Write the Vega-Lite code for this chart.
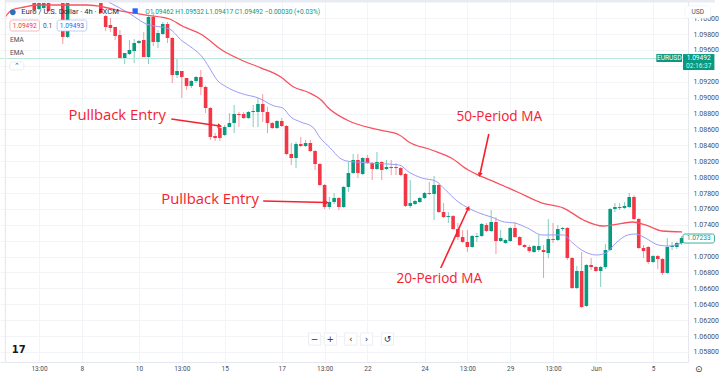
{"$schema":"https://vega.github.io/schema/vega-lite/v6.json","width":688,"height":362,"autosize":{"type":"none"},"padding":{"left":0,"top":0,"right":32,"bottom":14},"background":"#ffffff","config":{"view":{"stroke":null},"text":{"font":"Roboto"}},
"datasets":{
"candles":[
{"i":6,"o":1.1019,"h":1.1019,"l":1.10077,"c":1.10102,"d":"down"},{"i":7,"o":1.10115,"h":1.1019,"l":1.10102,"c":1.1019,"d":"up"},{"i":8,"o":1.10127,"h":1.1019,"l":1.10115,"c":1.1019,"d":"up"},{"i":9,"o":1.1019,"h":1.1019,"l":1.10077,"c":1.1009,"d":"down"},{"i":12,"o":1.1019,"h":1.1019,"l":1.09675,"c":1.09763,"d":"down"},{"i":13,"o":1.09763,"h":1.1019,"l":1.0975,"c":1.1019,"d":"up"},{"i":20,"o":1.1019,"h":1.1019,"l":1.10052,"c":1.10064,"d":"down"},
{"i":21,"o":1.10027,"h":1.10039,"l":1.09838,"c":1.09888,"d":"down"},{"i":22,"o":1.09914,"h":1.10001,"l":1.09826,"c":1.09876,"d":"down"},{"i":23,"o":1.09888,"h":1.09888,"l":1.09725,"c":1.09775,"d":"down"},{"i":24,"o":1.09788,"h":1.09851,"l":1.09486,"c":1.09498,"d":"down"},{"i":25,"o":1.09498,"h":1.09561,"l":1.09423,"c":1.09561,"d":"up"},{"i":26,"o":1.09548,"h":1.09725,"l":1.09536,"c":1.09599,"d":"up"},{"i":27,"o":1.09586,"h":1.09737,"l":1.09435,"c":1.09687,"d":"up"},{"i":28,"o":1.09687,"h":1.09725,"l":1.09675,"c":1.09712,"d":"up"},{"i":29,"o":1.09725,"h":1.09826,"l":1.09511,"c":1.09511,"d":"down"},{"i":30,"o":1.09511,"h":1.10027,"l":1.09423,"c":1.10014,"d":"up"},{"i":31,"o":1.10014,"h":1.10077,"l":1.09649,"c":1.097,"d":"down"},{"i":32,"o":1.097,"h":1.09851,"l":1.09624,"c":1.09813,"d":"up"},{"i":33,"o":1.098,"h":1.09951,"l":1.09788,"c":1.09926,"d":"up"},{"i":34,"o":1.09926,"h":1.09951,"l":1.09687,"c":1.0975,"d":"down"},{"i":35,"o":1.0975,"h":1.09763,"l":1.09184,"c":1.09284,"d":"down"},{"i":36,"o":1.09284,"h":1.09486,"l":1.09247,"c":1.09335,"d":"up"},{"i":37,"o":1.09335,"h":1.09335,"l":1.08995,"c":1.09259,"d":"down"},{"i":38,"o":1.09247,"h":1.09247,"l":1.09096,"c":1.09147,"d":"down"},{"i":39,"o":1.09147,"h":1.09222,"l":1.09121,"c":1.09209,"d":"up"},{"i":40,"o":1.09209,"h":1.09272,"l":1.09184,"c":1.09259,"d":"up"},{"i":41,"o":1.09259,"h":1.09347,"l":1.09033,"c":1.09134,"d":"down"},{"i":42,"o":1.09134,"h":1.09147,"l":1.08806,"c":1.08869,"d":"down"},{"i":43,"o":1.08869,"h":1.08882,"l":1.08467,"c":1.08505,"d":"down"},{"i":44,"o":1.08517,"h":1.08555,"l":1.08454,"c":1.08492,"d":"down"},{"i":45,"o":1.08618,"h":1.08655,"l":1.08454,"c":1.08492,"d":"down"},{"i":46,"o":1.0853,"h":1.08655,"l":1.08517,"c":1.0863,"d":"up"},{"i":47,"o":1.0863,"h":1.08806,"l":1.0863,"c":1.08681,"d":"up"},{"i":48,"o":1.08681,"h":1.08907,"l":1.08555,"c":1.08794,"d":"up"},{"i":49,"o":1.08794,"h":1.08819,"l":1.0863,"c":1.08781,"d":"down"},{"i":50,"o":1.08794,"h":1.08819,"l":1.08731,"c":1.08743,"d":"down"},{"i":51,"o":1.08743,"h":1.08832,"l":1.08731,"c":1.08819,"d":"up"},{"i":52,"o":1.08819,"h":1.08907,"l":1.0863,"c":1.08832,"d":"up"},{"i":53,"o":1.08819,"h":1.08995,"l":1.0863,"c":1.0892,"d":"up"},{"i":54,"o":1.0892,"h":1.09045,"l":1.08693,"c":1.08819,"d":"down"},{"i":55,"o":1.08819,"h":1.08882,"l":1.08555,"c":1.08681,"d":"down"},{"i":56,"o":1.08681,"h":1.08693,"l":1.08605,"c":1.08618,"d":"down"},{"i":57,"o":1.08618,"h":1.08718,"l":1.08605,"c":1.08706,"d":"up"},{"i":58,"o":1.08706,"h":1.08743,"l":1.0863,"c":1.08643,"d":"down"},{"i":59,"o":1.08643,"h":1.08655,"l":1.08278,"c":1.08291,"d":"down"},{"i":60,"o":1.08291,"h":1.08429,"l":1.08152,"c":1.0824,"d":"down"},{"i":61,"o":1.0824,"h":1.08442,"l":1.08114,"c":1.08416,"d":"up"},{"i":62,"o":1.08416,"h":1.08505,"l":1.08379,"c":1.08391,"d":"down"},{"i":63,"o":1.08391,"h":1.08467,"l":1.08379,"c":1.08429,"d":"up"},{"i":64,"o":1.08429,"h":1.08467,"l":1.08316,"c":1.08328,"d":"down"},{"i":65,"o":1.08328,"h":1.08341,"l":1.08089,"c":1.08165,"d":"down"},{"i":66,"o":1.08165,"h":1.08177,"l":1.07889,"c":1.07901,"d":"down"},{"i":67,"o":1.07901,"h":1.07914,"l":1.07599,"c":1.07624,"d":"down"},{"i":68,"o":1.07624,"h":1.0775,"l":1.07599,"c":1.07687,"d":"up"},{"i":69,"o":1.07687,"h":1.078,"l":1.07662,"c":1.07737,"d":"up"},{"i":70,"o":1.07737,"h":1.0775,"l":1.07586,"c":1.07624,"d":"down"},{"i":71,"o":1.07624,"h":1.07889,"l":1.07612,"c":1.07876,"d":"up"},{"i":72,"o":1.07876,"h":1.0819,"l":1.07813,"c":1.08052,"d":"up"},{"i":73,"o":1.08052,"h":1.08291,"l":1.08039,"c":1.08215,"d":"up"},{"i":74,"o":1.08215,"h":1.08291,"l":1.07989,"c":1.08052,"d":"down"},{"i":75,"o":1.08039,"h":1.08252,"l":1.08027,"c":1.0824,"d":"up"},{"i":76,"o":1.0824,"h":1.08278,"l":1.08165,"c":1.08177,"d":"down"},{"i":77,"o":1.08177,"h":1.0819,"l":1.07964,"c":1.08102,"d":"down"},{"i":78,"o":1.08102,"h":1.08316,"l":1.0809,"c":1.0819,"d":"up"},{"i":79,"o":1.0819,"h":1.08202,"l":1.07964,"c":1.08089,"d":"down"},{"i":80,"o":1.08102,"h":1.08215,"l":1.08089,"c":1.08127,"d":"up"},{"i":81,"o":1.08127,"h":1.08215,"l":1.08027,"c":1.08114,"d":"down"},{"i":82,"o":1.08127,"h":1.08177,"l":1.08027,"c":1.08114,"d":"down"},{"i":83,"o":1.08114,"h":1.08127,"l":1.08014,"c":1.08027,"d":"down"},{"i":84,"o":1.08039,"h":1.08052,"l":1.07624,"c":1.07637,"d":"down"},{"i":85,"o":1.07637,"h":1.07964,"l":1.07612,"c":1.07674,"d":"up"},{"i":86,"o":1.07662,"h":1.07712,"l":1.07649,"c":1.07699,"d":"up"},{"i":87,"o":1.07687,"h":1.0775,"l":1.07674,"c":1.07737,"d":"up"},{"i":88,"o":1.07737,"h":1.07813,"l":1.07725,"c":1.078,"d":"up"},{"i":89,"o":1.078,"h":1.07939,"l":1.07775,"c":1.07788,"d":"down"},{"i":90,"o":1.07788,"h":1.08014,"l":1.0746,"c":1.07901,"d":"up"},{"i":91,"o":1.07901,"h":1.07914,"l":1.07548,"c":1.07561,"d":"down"},{"i":92,"o":1.07561,"h":1.07674,"l":1.07486,"c":1.07498,"d":"down"},{"i":93,"o":1.07498,"h":1.07561,"l":1.07423,"c":1.0751,"d":"up"},{"i":94,"o":1.0751,"h":1.07523,"l":1.07335,"c":1.07347,"d":"down"},{"i":95,"o":1.07347,"h":1.07423,"l":1.07209,"c":1.07246,"d":"down"},{"i":96,"o":1.07246,"h":1.07335,"l":1.07172,"c":1.07184,"d":"down"},{"i":97,"o":1.07184,"h":1.07335,"l":1.07058,"c":1.07121,"d":"down"},{"i":98,"o":1.07121,"h":1.07272,"l":1.07109,"c":1.07259,"d":"up"},{"i":99,"o":1.07246,"h":1.07297,"l":1.07184,"c":1.07259,"d":"up"},{"i":100,"o":1.07259,"h":1.07423,"l":1.07246,"c":1.0741,"d":"up"},{"i":101,"o":1.07398,"h":1.07423,"l":1.07309,"c":1.07322,"d":"down"},{"i":102,"o":1.07322,"h":1.07586,"l":1.07309,"c":1.07435,"d":"up"},{"i":103,"o":1.07435,"h":1.07498,"l":1.07033,"c":1.07196,"d":"down"},{"i":104,"o":1.07196,"h":1.07335,"l":1.07184,"c":1.07234,"d":"up"},{"i":105,"o":1.07171,"h":1.07221,"l":1.07159,"c":1.07209,"d":"up"},{"i":106,"o":1.07196,"h":1.07372,"l":1.07184,"c":1.0736,"d":"up"},{"i":107,"o":1.0736,"h":1.07435,"l":1.07234,"c":1.07246,"d":"down"},{"i":108,"o":1.07246,"h":1.07259,"l":1.07133,"c":1.07146,"d":"down"},{"i":109,"o":1.07146,"h":1.07159,"l":1.07109,"c":1.07121,"d":"down"},{"i":110,"o":1.07121,"h":1.07146,"l":1.07045,"c":1.0707,"d":"down"},{"i":111,"o":1.07058,"h":1.07146,"l":1.07045,"c":1.07133,"d":"up"},{"i":112,"o":1.07083,"h":1.07272,"l":1.07058,"c":1.07133,"d":"up"},{"i":113,"o":1.07083,"h":1.07146,"l":1.06731,"c":1.07058,"d":"down"},{"i":114,"o":1.07045,"h":1.07473,"l":1.06982,"c":1.07221,"d":"up"},{"i":115,"o":1.07221,"h":1.07423,"l":1.07171,"c":1.07209,"d":"down"},{"i":116,"o":1.07209,"h":1.07398,"l":1.07196,"c":1.07347,"d":"up"},{"i":117,"o":1.07347,"h":1.07372,"l":1.07322,"c":1.0736,"d":"up"},{"i":118,"o":1.0736,"h":1.07372,"l":1.06957,"c":1.06982,"d":"down"},{"i":119,"o":1.06982,"h":1.06995,"l":1.06592,"c":1.06605,"d":"down"},{"i":120,"o":1.06605,"h":1.06882,"l":1.06592,"c":1.06819,"d":"up"},{"i":121,"o":1.06819,"h":1.07058,"l":1.06353,"c":1.06366,"d":"down"},{"i":122,"o":1.06379,"h":1.06907,"l":1.06366,"c":1.06894,"d":"up"},{"i":123,"o":1.06894,"h":1.06982,"l":1.06831,"c":1.06869,"d":"down"},{"i":124,"o":1.06869,"h":1.06882,"l":1.06806,"c":1.06819,"d":"down"},{"i":125,"o":1.06819,"h":1.06882,"l":1.06618,"c":1.06869,"d":"up"},{"i":126,"o":1.06869,"h":1.07159,"l":1.06844,"c":1.07083,"d":"up"},{"i":127,"o":1.07083,"h":1.07612,"l":1.0707,"c":1.07599,"d":"up"},{"i":128,"o":1.07599,"h":1.07674,"l":1.07561,"c":1.07624,"d":"up"},{"i":129,"o":1.07612,"h":1.07674,"l":1.07586,"c":1.07624,"d":"up"},{"i":130,"o":1.07612,"h":1.07687,"l":1.07599,"c":1.07637,"d":"up"},{"i":131,"o":1.07624,"h":1.078,"l":1.07612,"c":1.0775,"d":"up"},{"i":132,"o":1.0775,"h":1.07775,"l":1.0746,"c":1.07473,"d":"down"},{"i":133,"o":1.07473,"h":1.07486,"l":1.07096,"c":1.07108,"d":"down"},{"i":134,"o":1.07108,"h":1.07146,"l":1.06982,"c":1.0707,"d":"down"},{"i":135,"o":1.07121,"h":1.07133,"l":1.06907,"c":1.06932,"d":"down"},{"i":136,"o":1.06932,"h":1.0702,"l":1.06919,"c":1.07007,"d":"up"},{"i":137,"o":1.07007,"h":1.0702,"l":1.06844,"c":1.0697,"d":"down"},{"i":138,"o":1.0697,"h":1.06982,"l":1.06769,"c":1.06794,"d":"down"},{"i":139,"o":1.06794,"h":1.07234,"l":1.06782,"c":1.07121,"d":"up"},{"i":140,"o":1.07121,"h":1.07184,"l":1.07083,"c":1.07133,"d":"up"},{"i":141,"o":1.07121,"h":1.07184,"l":1.07096,"c":1.07171,"d":"up"},{"i":142,"o":1.07171,"h":1.07259,"l":1.07146,"c":1.07233,"d":"up"}],
"ema20":[{"i":21.6,"p":1.10203},{"i":26.2,"p":1.10052},{"i":29.5,"p":1.09926},{"i":34.4,"p":1.09863},{"i":37.1,"p":1.09712},{"i":39.2,"p":1.09624},{"i":41.3,"p":1.09511},{"i":42.7,"p":1.09385},{"i":44.4,"p":1.09222},{"i":46.4,"p":1.09134},{"i":49.5,"p":1.09052},{"i":53.1,"p":1.08995},{"i":56.4,"p":1.08895},{"i":58.2,"p":1.08869},{"i":59.9,"p":1.08756},{"i":62,"p":1.08693},{"i":64.5,"p":1.0863},{"i":66.1,"p":1.08492},{"i":68.2,"p":1.08366},{"i":70.2,"p":1.0824},{"i":71.7,"p":1.08202},{"i":76.5,"p":1.08177},{"i":82.7,"p":1.08152},{"i":84.7,"p":1.08064},{"i":87.4,"p":1.07989},{"i":90.3,"p":1.07951},{"i":92.4,"p":1.07838},{"i":95.1,"p":1.07687},{"i":97.2,"p":1.07611},{"i":99.2,"p":1.07555},{"i":102,"p":1.07498},{"i":104.8,"p":1.07435},{"i":106.9,"p":1.07423},{"i":109.6,"p":1.0736},{"i":112.7,"p":1.07272},{"i":117.2,"p":1.07272},{"i":118.9,"p":1.07184},{"i":121,"p":1.07083},{"i":124.1,"p":1.0702},{"i":126.1,"p":1.07045},{"i":128.2,"p":1.07171},{"i":130.7,"p":1.07272},{"i":132.4,"p":1.07284},{"i":134.4,"p":1.07234},{"i":137.1,"p":1.07146},{"i":139.2,"p":1.07133},{"i":142.1,"p":1.07171}],
"ema50":[{"i":-0.1,"p":1.10014},{"i":1.3,"p":1.10102},{"i":4,"p":1.1014},{"i":6.7,"p":1.10165},{"i":17,"p":1.10165},{"i":20.6,"p":1.1014},{"i":23.3,"p":1.10102},{"i":29.5,"p":1.10039},{"i":34.4,"p":1.09989},{"i":37.1,"p":1.09901},{"i":41.3,"p":1.09788},{"i":45.4,"p":1.09599},{"i":49.5,"p":1.09473},{"i":53.7,"p":1.09372},{"i":57.8,"p":1.09259},{"i":60.5,"p":1.09134},{"i":63.4,"p":1.09071},{"i":66.5,"p":1.08957},{"i":67.6,"p":1.08882},{"i":71.7,"p":1.08718},{"i":78.5,"p":1.08593},{"i":82.7,"p":1.0853},{"i":84.7,"p":1.08442},{"i":89.5,"p":1.08341},{"i":93.6,"p":1.0824},{"i":97.2,"p":1.08089},{"i":99.2,"p":1.08027},{"i":102.8,"p":1.07938},{"i":107.5,"p":1.07813},{"i":112.7,"p":1.07674},{"i":117.2,"p":1.07611},{"i":121.4,"p":1.0746},{"i":125.5,"p":1.07385},{"i":127.6,"p":1.07398},{"i":131.7,"p":1.07435},{"i":134.4,"p":1.07398},{"i":137.9,"p":1.07322},{"i":142.1,"p":1.0731}],
"arrows":[{"i":34.8,"p":1.08731,"i2":45,"p2":1.08643,"a":98},{"i":54.1,"p":1.07699,"i2":67.4,"p2":1.0768,"a":91},{"i":101.5,"p":1.08542,"i2":99.6,"p2":1.08027,"a":192},{"i":91.4,"p":1.06857,"i2":97.2,"p2":1.07611,"a":25}],
"notes":[{"i":13.2,"p":1.08769,"t":"Pullback Entry"},{"i":32.7,"p":1.07712,"t":"Pullback Entry"}],
"notes2":[{"i":94.7,"p":1.08756,"t":"50-Period  MA"},{"i":82.1,"p":1.06718,"t":"20-Period  MA"}]
},
"layer":[
{"data":{"name":"candles"},"mark":{"type":"rule","strokeWidth":1,"opacity":0.5},"encoding":{"x":{"field":"i","type":"quantitative","scale":{"domain":[-0.145,142.3],"nice":false,"zero":false},"axis":{"title":null,"tickCount":30,"values":[7,16,28,37,46,58,67,76,88,97,106,115,124,136],"labelExpr":"['13:00','8','10','13:00','15','17','13:00','22','24','13:00','29','13:00','Jun','5'][indexof([7,16,28,37,46,58,67,76,88,97,106,115,124,136],datum.value)]","labelFont":"Roboto","labelFontSize":6.5,"labelColor":"#4a4e59","labelPadding":3,"tickSize":0,"grid":true,"gridColor":"#f3f4f7","gridWidth":1,"domainColor":"#e6e8ef","labelOverlap":false}},"y":{"field":"h","type":"quantitative","scale":{"domain":[1.05674,1.10228],"nice":false,"zero":false},"axis":{"title":null,"orient":"right","tickCount":30,"values":[1.058,1.06,1.062,1.064,1.066,1.068,1.07,1.072,1.074,1.076,1.078,1.08,1.082,1.084,1.086,1.088,1.09,1.092,1.094,1.096,1.098,1.1],"labelExpr":"datum.value==1.094||datum.value==1.072?'':format(datum.value,'.5f')","labelFont":"Roboto","labelFontSize":7,"labelColor":"#4a4e59","labelPadding":5,"tickSize":0,"grid":true,"gridColor":"#f3f4f7","gridWidth":1,"domainColor":"#e6e8ef","labelOverlap":false}},"y2":{"field":"l"},"color":{"field":"d","type":"nominal","scale":{"domain":["up","down"],"range":["#089981","#f23645"]},"legend":null}}},
{"data":{"values":[{"p":1.09492}]},"mark":{"type":"rule","color":"#bfe8dd","strokeWidth":1},"encoding":{"y":{"field":"p","type":"quantitative"}}},
{"data":{"name":"candles"},"mark":{"type":"bar","width":3.6},"encoding":{"x":{"field":"i","type":"quantitative"},"y":{"field":"o","type":"quantitative"},"y2":{"field":"c"},"color":{"field":"d","type":"nominal","legend":null}}},
{"data":{"name":"ema20"},"mark":{"type":"line","color":"#9a9cf6","strokeWidth":1,"interpolate":"monotone"},"encoding":{"x":{"field":"i","type":"quantitative"},"y":{"field":"p","type":"quantitative"}}},
{"data":{"name":"ema50"},"mark":{"type":"line","color":"#f7525f","strokeWidth":1.3,"interpolate":"monotone"},"encoding":{"x":{"field":"i","type":"quantitative"},"y":{"field":"p","type":"quantitative"}}},
{"data":{"name":"arrows"},"mark":{"type":"rule","color":"#f5212f","strokeWidth":1.6},"encoding":{"x":{"field":"i","type":"quantitative"},"x2":{"field":"i2"},"y":{"field":"p","type":"quantitative"},"y2":{"field":"p2"}}},
{"data":{"name":"arrows"},"mark":{"type":"point","shape":"triangle-up","filled":true,"color":"#f5212f","opacity":1,"size":26},"encoding":{"x":{"field":"i2","type":"quantitative"},"y":{"field":"p2","type":"quantitative"},"angle":{"field":"a","type":"quantitative","scale":null}}},
{"data":{"name":"notes"},"mark":{"type":"text","align":"left","baseline":"middle","font":"Open Sans","fontSize":14.8,"color":"#f5212f"},"encoding":{"x":{"field":"i","type":"quantitative"},"y":{"field":"p","type":"quantitative"},"text":{"field":"t"}}},
{"data":{"name":"notes2"},"mark":{"type":"text","align":"left","baseline":"middle","font":"Open Sans","fontSize":13.6,"color":"#f5212f"},"encoding":{"x":{"field":"i","type":"quantitative"},"y":{"field":"p","type":"quantitative"},"text":{"field":"t"}}},
{"data":{"values":[{"i":-0.2,"i2":149,"p":1.10228,"p2":1.10195},{"i":-0.2,"i2":0.1,"p":1.10228,"p2":1.05674}]},"mark":{"type":"rect","color":"#e9ebf2"},"encoding":{"x":{"field":"i","type":"quantitative"},"x2":{"field":"i2"},"y":{"field":"p","type":"quantitative"},"y2":{"field":"p2"}}},
{"data":{"values":[{"i":0.9,"i2":7.1,"p":1.09976,"p2":1.09838,"s":"#f7a3aa"},{"i":10.8,"i2":17.04,"p":1.09976,"p2":1.09838,"s":"#a9c1fb"},{"i":0.9,"i2":3.8,"p":1.09448,"p2":1.09347,"s":"#e6e8ef"},{"i":142.7,"i2":148.1,"p":1.10153,"p2":1.10001,"s":"#f2f3f7"},{"i":142.3,"i2":148.9,"p":1.07284,"p2":1.07171,"s":"#089981"}]},"mark":{"type":"rect","fill":"#ffffff","cornerRadius":2,"strokeWidth":0.8},"encoding":{"x":{"field":"i","type":"quantitative"},"x2":{"field":"i2"},"y":{"field":"p","type":"quantitative"},"y2":{"field":"p2"},"stroke":{"field":"s","type":"nominal","scale":null}}},
{"data":{"values":[{"i":136.7,"i2":142.1,"p":1.09548,"p2":1.09448},{"i":142.3,"i2":148.9,"p":1.09548,"p2":1.09347}]},"mark":{"type":"rect","color":"#089981"},"encoding":{"x":{"field":"i","type":"quantitative"},"x2":{"field":"i2"},"y":{"field":"p","type":"quantitative"},"y2":{"field":"p2"}}},
{"data":{"values":[{"i":64.9,"p":1.05963},{"i":68.2,"p":1.05963},{"i":72.5,"p":1.05963},{"i":75.8,"p":1.05963},{"i":80.2,"p":1.05963}]},"mark":{"type":"point","shape":"square","filled":true,"color":"#ffffff","stroke":"#eceef3","strokeWidth":1,"opacity":1,"size":150},"encoding":{"x":{"field":"i","type":"quantitative"},"y":{"field":"p","type":"quantitative"}}},
{"data":{"values":[{"i":1.5,"p":1.10073}]},"mark":{"type":"point","shape":"circle","filled":true,"color":"#2f6fb8","opacity":1,"size":32},"encoding":{"x":{"field":"i","type":"quantitative"},"y":{"field":"p","type":"quantitative"}}},
{"data":{"values":[{"i":27.2,"p":1.1009}]},"mark":{"type":"point","shape":"square","filled":true,"color":"#2962ff","opacity":1,"size":28},"encoding":{"x":{"field":"i","type":"quantitative"},"y":{"field":"p","type":"quantitative"}}},
{"data":{"values":[{"i":3.27,"p":1.10083,"t":"Euro / U.S. Dollar · 4h · FXCM"}]},"mark":{"type":"text","align":"left","baseline":"middle","fontSize":7.6,"color":"#2a2e39"},"encoding":{"x":{"field":"i","type":"quantitative"},"y":{"field":"p","type":"quantitative"},"text":{"field":"t"}}},
{"data":{"values":[{"i":29.3,"p":1.10083,"t":"O1.09462  H1.09532  L1.09417  C1.09492  −0.00030 (+0.03%)"}]},"mark":{"type":"text","align":"left","baseline":"middle","fontSize":6.6,"color":"#089981"},"encoding":{"x":{"field":"i","type":"quantitative"},"y":{"field":"p","type":"quantitative"},"text":{"field":"t"}}},
{"data":{"values":[{"i":4,"p":1.09907,"t":"1.09492","k":"#f23645"},{"i":8.8,"p":1.09907,"t":"0.1","k":"#4a4e59"},{"i":13.9,"p":1.09907,"t":"1.09493","k":"#2962ff"},{"i":2.35,"p":1.09404,"t":"⌃","k":"#4a4e59"},{"i":145.4,"p":1.10083,"t":"USD","k":"#4a4e59"},{"i":139.4,"p":1.09498,"t":"EURUSD","k":"#ffffff"},{"i":145.6,"p":1.09498,"t":"1.09492","k":"#ffffff"},{"i":145.6,"p":1.09392,"t":"02:16:37","k":"#d5f0e9"},{"i":145.6,"p":1.07228,"t":"1.07233","k":"#089981"}]},"mark":{"type":"text","align":"center","baseline":"middle","fontSize":6.6},"encoding":{"x":{"field":"i","type":"quantitative"},"y":{"field":"p","type":"quantitative"},"text":{"field":"t"},"color":{"field":"k","type":"nominal","scale":null}}},
{"data":{"values":[{"i":0.9,"p":1.09725,"t":"EMA"},{"i":0.9,"p":1.09561,"t":"EMA"}]},"mark":{"type":"text","align":"left","baseline":"middle","fontSize":6.6,"color":"#4a4e59"},"encoding":{"x":{"field":"i","type":"quantitative"},"y":{"field":"p","type":"quantitative"},"text":{"field":"t"}}},
{"data":{"values":[{"i":64.9,"p":1.05963,"t":"−"},{"i":68.2,"p":1.05963,"t":"+"},{"i":72.5,"p":1.05963,"t":"‹"},{"i":75.8,"p":1.05963,"t":"›"},{"i":80.2,"p":1.05963,"t":"↺"},{"i":145.6,"p":1.05586,"t":"⊙"}]},"mark":{"type":"text","align":"center","baseline":"middle","font":"DejaVu Sans","fontSize":9,"color":"#2a2e39"},"encoding":{"x":{"field":"i","type":"quantitative"},"y":{"field":"p","type":"quantitative"},"text":{"field":"t"}}},
{"data":{"values":[{"i":2.75,"p":1.0582,"t":"17"}]},"mark":{"type":"text","align":"center","baseline":"middle","font":"DejaVu Sans","fontWeight":"bold","fontSize":10,"color":"#131722"},"encoding":{"x":{"field":"i","type":"quantitative"},"y":{"field":"p","type":"quantitative"},"text":{"field":"t"}}}
]}
